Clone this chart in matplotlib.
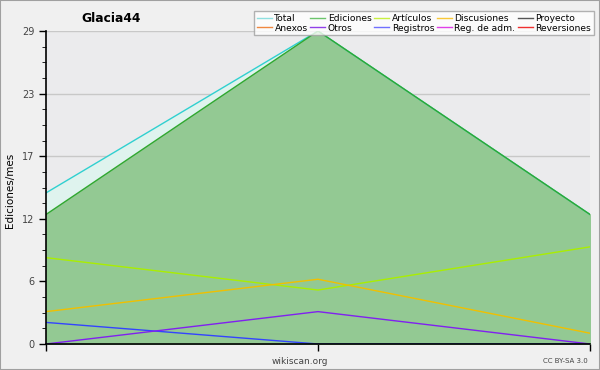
import matplotlib
matplotlib.use("Agg")
import matplotlib.pyplot as plt
from matplotlib.ticker import AutoMinorLocator
from matplotlib.lines import Line2D

months = [0, 1, 2]
total = [14, 29, 12]
ediciones = [12, 29, 12]
articulos = [8, 5, 9]
discusiones = [3, 6, 1]
registros = [2, 0, 0]
otros = [0, 3, 0]
yticks = [0, 5.8, 11.6, 17.4, 23.2, 29]
yticklabels = ["0", "6", "12", "17", "23", "29"]

legend_names = ["Total", "Ediciones", "Artículos", "Discusiones", "Proyecto",
                "Anexos", "Otros", "Registros", "Reg. de adm.", "Reversiones"]
legend_colors = ["#8fe0e0", "#6cc46c", "#c8f040", "#f8c838", "#555555",
                 "#f08840", "#9040e8", "#7070ff", "#e040e8", "#f03030"]

fig = plt.figure(figsize=(6, 3.7), dpi=100, facecolor="#f0f0f0")
fig.patches.append(plt.Rectangle((0, 0), 1, 1, transform=fig.transFigure,
                                 fill=False, edgecolor="#a0a0a0", lw=1.5))
ax = fig.add_axes([46/600, 26/370, 544/600, 313/370])
ax.set_facecolor("#ebebed")

ax.fill_between(months, 0, total, color="#dff3ee", zorder=1)
ax.fill_between(months, 0, ediciones, color="#93c993", zorder=2)
ax.plot(months, total, color="#30d0d0", lw=1, zorder=3)
ax.plot(months, ediciones, color="#30a830", lw=1, zorder=3)
ax.plot(months, articulos, color="#aaee00", lw=1, zorder=4)
ax.plot(months, discusiones, color="#f0c000", lw=1, zorder=4)
ax.plot(months, registros, color="#3344ff", lw=1, zorder=4)
ax.plot(months, otros, color="#8020f0", lw=1, zorder=4)

ax.set_xlim(0, 2)
ax.set_ylim(0, 29)
ax.set_yticks(yticks)
ax.set_yticklabels(yticklabels, fontsize=7, color="#444444")
ax.yaxis.set_minor_locator(AutoMinorLocator(4))
ax.set_xticks(months)
ax.set_xticklabels([])
ax.tick_params(axis="both", direction="out", length=5, width=1, color="black")
ax.tick_params(axis="y", which="minor", length=3)
ax.grid(axis="y", which="major", color="#c8c8c8", lw=1, zorder=0)
ax.set_axisbelow(True)
for s in ["top", "right"]:
    ax.spines[s].set_visible(False)
for s in ["left", "bottom"]:
    ax.spines[s].set_linewidth(1.2)
    ax.spines[s].set_zorder(6)

fig.text(111/600, 1 - 18/370, "Glacia44", fontsize=8.8, fontweight="bold",
         ha="center", va="center")
fig.text(10/600, 1 - 190/370, "Ediciones/mes", fontsize=7.5, rotation=90,
         ha="center", va="center")
fig.text(300/600, 1 - 361/370, "wikiscan.org", fontsize=6.5, color="#444444",
         ha="center", va="center")
fig.text(588/600, 1 - 361/370, "CC BY-SA 3.0", fontsize=5, color="#444444",
         ha="right", va="center")

handles = [Line2D([], [], color=c, lw=1) for c in legend_colors]
order = [0, 5, 1, 6, 2, 7, 3, 8, 4, 9]
leg = fig.legend([handles[i] for i in order], [legend_names[i] for i in order],
                 ncol=5, loc="upper right", bbox_to_anchor=(594/600, 1 - 11/370),
                 fontsize=6.6, frameon=True, fancybox=False, edgecolor="#a0a0a0",
                 handlelength=1.6, handletextpad=0.3, columnspacing=0.3,
                 labelspacing=0.1, borderpad=0.3, borderaxespad=0)
leg.get_frame().set_linewidth(1)
leg.set_zorder(10)

fig.savefig("out.png", dpi=100, facecolor=fig.get_facecolor())
